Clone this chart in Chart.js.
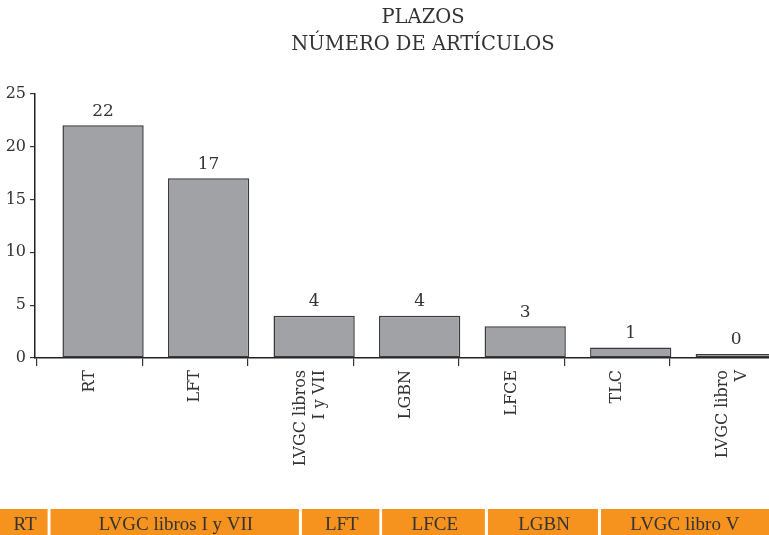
<!DOCTYPE html>
<html lang="es">
<head>
  <meta charset="UTF-8">
  <title>Plazos - número de artículos</title>
  <script src="https://cdn.jsdelivr.net/npm/chart.js"></script>
  <style>
    html, body { margin: 0; padding: 0; background: #fff; overflow: hidden; width: 769px; height: 535px; }
    #main { position: absolute; left: 0; top: 0; }
    #strip { position: absolute; left: 0; top: 509px; }
  </style>
</head>
<body>
  <canvas id="main" width="846" height="500"></canvas>
  <canvas id="strip" width="769" height="60"></canvas>

  <script>
  // gráfico principal
  const leyes = [['RT'], ['LFT'], ['LVGC libros', 'I y VII'], ['LGBN'], ['LFCE'], ['TLC'], ['LVGC libro', 'V']];
  const articulos = [22, 17, 4, 4, 3, 1, 0];
  const yTicks = [0, 5, 10, 15, 20, 25];

  // franja naranja de abajo (recortada en la imagen)
  const franjaEtiquetas = ['RT', 'LVGC libros I y VII', 'LFT', 'LFCE', 'LGBN', 'LVGC libro V'];
  const franjaValores = [2, 10, 3.2, 4.2, 4.5, 7];

  const SERIF = '"DejaVu Serif", serif';
  const TXT = '#333';
  const LABEL_SHIFT = -0.13; // las etiquetas del eje x van un poco a la izquierda de las barras

  // números encima de cada barra
  const etiquetasValor = {
    id: 'etiquetasValor',
    afterDatasetsDraw(chart) {
      const ctx = chart.ctx;
      ctx.save();
      ctx.font = '17px ' + SERIF;
      ctx.fillStyle = TXT;
      ctx.textAlign = 'center';
      ctx.textBaseline = 'middle';
      chart.getDatasetMeta(0).data.forEach((bar, i) => {
        ctx.fillText(String(articulos[i]), bar.x, Math.min(bar.y, bar.base) - 14);
      });
      ctx.restore();
    }
  };

  new Chart(document.getElementById('main'), {
    type: 'bar',
    data: {
      datasets: [{
        data: articulos.map((v, i) => ({ x: i, y: v })),
        backgroundColor: '#A1A2A6',
        borderColor: '#3a3a3a',
        borderWidth: 1.5,
        borderSkipped: false,
        minBarLength: 4,
        categoryPercentage: 0.77,
        barPercentage: 1
      }]
    },
    options: {
      responsive: false,
      animation: false,
      layout: { padding: 0 },
      plugins: {
        legend: { display: false },
        tooltip: { enabled: false },
        title: {
          display: true,
          text: ['PLAZOS', 'NÚMERO DE ARTÍCULOS'],
          color: TXT,
          font: { family: SERIF, size: 19.5, weight: 'normal', lineHeight: 1.35 },
          padding: { top: 5, bottom: 36 }
        }
      },
      scales: {
        x: {
          type: 'linear',
          min: -0.645,
          max: 7.04,
          offset: false,
          afterBuildTicks: s => { s.ticks = leyes.map((_, i) => ({ value: i + LABEL_SHIFT })); },
          afterFit: s => { s.height = 142; s.paddingLeft = 0; s.paddingRight = 0; },
          ticks: {
            autoSkip: false,
            minRotation: 90,
            maxRotation: 90,
            padding: 4,
            color: TXT,
            font: { family: SERIF, size: 16 },
            callback: (v, i) => leyes[i]
          },
          grid: { offset: true, drawOnChartArea: false, drawTicks: true, tickLength: 8, color: '#333', lineWidth: 1.2 },
          border: { display: true, color: '#222', width: 1.5 }
        },
        y: {
          min: 0,
          max: 25,
          afterBuildTicks: s => { s.ticks = yTicks.map(v => ({ value: v })); },
          afterFit: s => { s.width = 35; },
          ticks: { color: TXT, padding: 4, font: { family: SERIF, size: 16 } },
          grid: { drawOnChartArea: false, drawTicks: true, tickLength: 5, color: '#333', lineWidth: 1.2 },
          border: { display: true, color: '#222', width: 1.5 }
        }
      }
    },
    plugins: [etiquetasValor]
  });

  // texto dentro de cada tramo naranja
  const etiquetasFranja = {
    id: 'etiquetasFranja',
    afterDatasetsDraw(chart) {
      const ctx = chart.ctx;
      ctx.save();
      ctx.font = '19px "Liberation Serif", serif';
      ctx.fillStyle = '#333';
      ctx.textAlign = 'center';
      ctx.textBaseline = 'middle';
      chart.data.datasets.forEach((ds, i) => {
        const bar = chart.getDatasetMeta(i).data[0];
        const right = Math.min(bar.x, chart.chartArea.right);
        ctx.fillText(franjaEtiquetas[i], (bar.base + right) / 2, chart.chartArea.top + 16);
      });
      ctx.restore();
    }
  };

  new Chart(document.getElementById('strip'), {
    type: 'bar',
    data: {
      labels: [''],
      datasets: franjaValores.map((v, i) => ({
        label: franjaEtiquetas[i],
        data: [v],
        backgroundColor: '#F6931F',
        borderColor: '#ffffff',
        borderWidth: { right: 3, left: 0, top: 0, bottom: 0 },
        borderSkipped: false,
        categoryPercentage: 1,
        barPercentage: 1
      }))
    },
    options: {
      indexAxis: 'y',
      responsive: false,
      animation: false,
      layout: { padding: 0 },
      plugins: { legend: { display: false }, tooltip: { enabled: false } },
      scales: {
        x: { stacked: true, display: false, min: 0, max: 30.6 },
        y: { stacked: true, display: false }
      }
    },
    plugins: [etiquetasFranja]
  });
  </script>
</body>
</html>
